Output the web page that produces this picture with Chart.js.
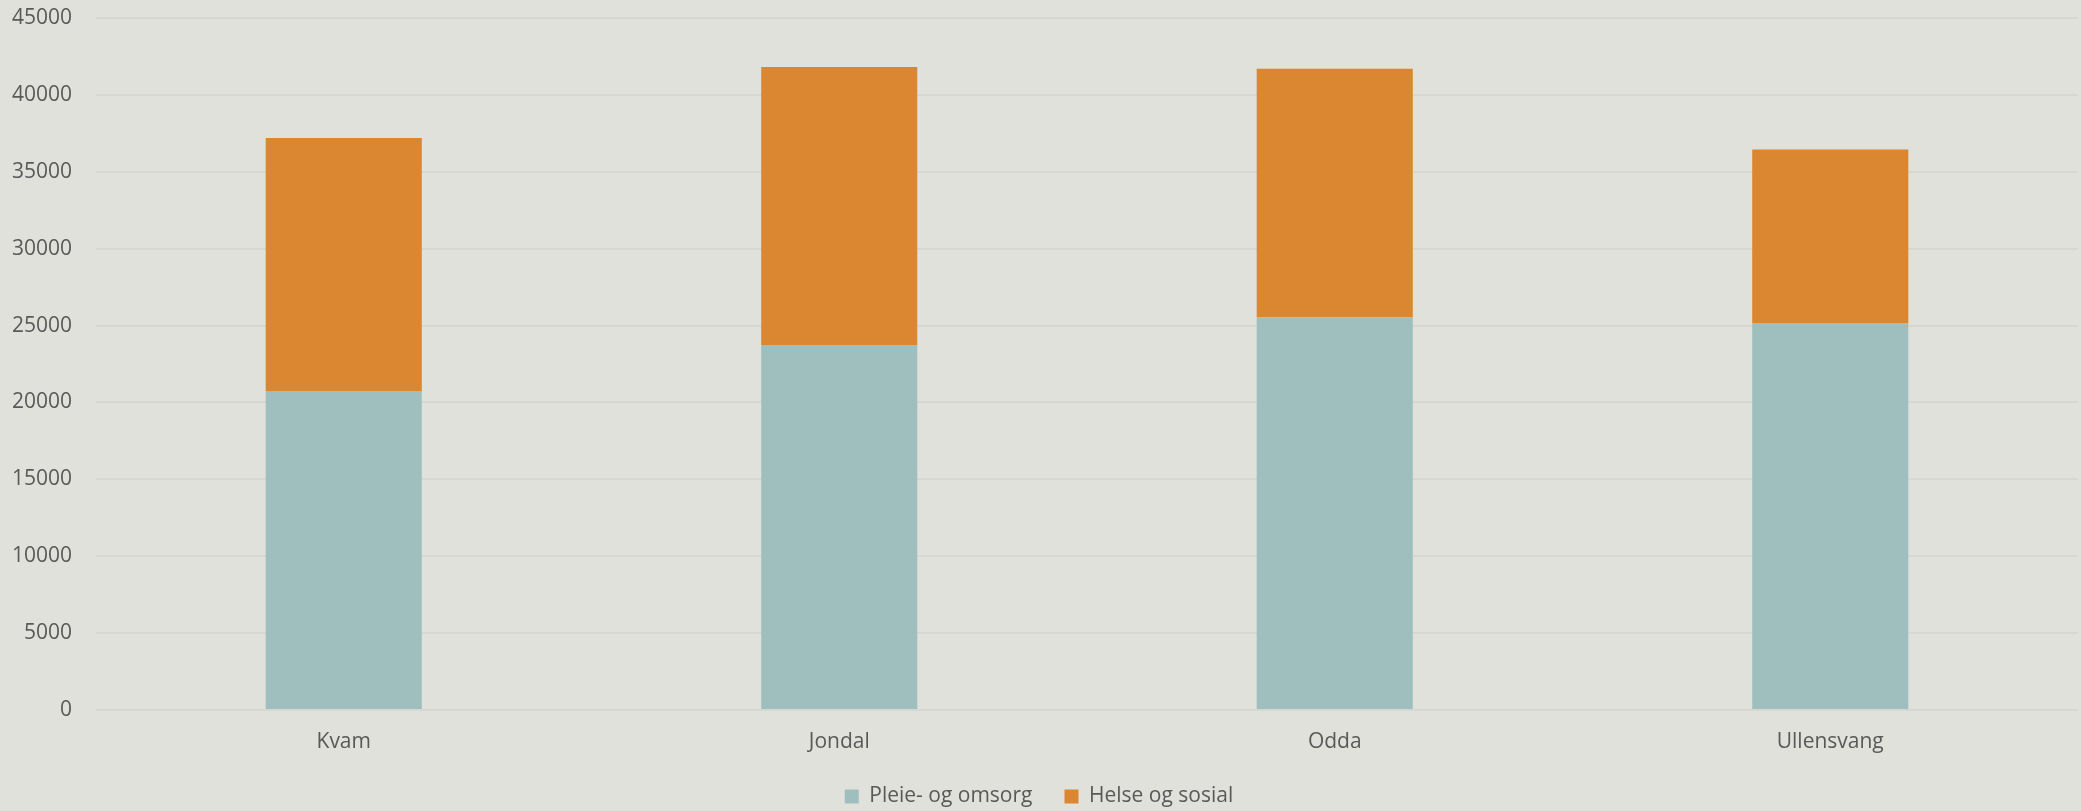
<!DOCTYPE html>
<html>
<head>
<meta charset="utf-8">
<script src="https://cdn.jsdelivr.net/npm/chart.js@4/dist/chart.umd.min.js"></script>
<style>
  html, body { margin: 0; padding: 0; background: #e0e1db; }
  #wrap { width: 2081px; height: 811px; position: relative; }
</style>
</head>
<body>
<div id="wrap"><canvas id="chart"></canvas></div>
<script>
const kommuner = ['Kvam', 'Jondal', 'Odda', 'Ullensvang'];
const pleieOmsorg = [20740, 23730, 25540, 25170];
const helseSosial = [16450, 18080, 16160, 11280];
const yTicks = [0, 5000, 10000, 15000, 20000, 25000, 30000, 35000, 40000, 45000];

const textColor = '#595959';
const font = { family: '"Open Sans", sans-serif', size: 21 };

// keep the legend strip a fixed height so the plot bottom stays put
const legendHeight = {
    id: 'legendHeight',
    beforeLayout(chart) {
        const lg = chart.legend;
        if (lg && !lg._fixed) {
            const fit = lg.fit.bind(lg);
            lg.fit = function () { fit(); this.height = 57; };
            lg._fixed = true;
        }
    }
};

const ctx = document.getElementById('chart').getContext('2d');
new Chart(ctx, {
    type: 'bar',
    data: {
        labels: kommuner,
        datasets: [{
            label: 'Pleie- og omsorg',
            data: pleieOmsorg,
            backgroundColor: '#9ebfbe',
            borderWidth: 0
        }, {
            label: 'Helse og sosial',
            data: helseSosial,
            backgroundColor: '#db8630',
            borderWidth: 0
        }]
    },
    plugins: [legendHeight],
    options: {
        responsive: true,
        maintainAspectRatio: false,
        animation: false,
        layout: { padding: { top: 0, right: 3, left: 0, bottom: 0 } },
        datasets: {
            bar: { categoryPercentage: 1, barPercentage: 0.315 }
        },
        scales: {
            x: {
                stacked: true,
                grid: { display: false, drawTicks: false },
                border: { display: false },
                ticks: { color: textColor, font: font, padding: 19 },
                afterFit: (scale) => { scale.height = 44; }
            },
            y: {
                stacked: true,
                min: 0,
                max: 45000,
                afterBuildTicks: (scale) => { scale.ticks = yTicks.map(v => ({ value: v })); },
                grid: { color: '#d6d7d2', lineWidth: 2, drawTicks: false },
                border: { display: false },
                ticks: {
                    color: textColor,
                    font: font,
                    padding: 24,
                    callback: (value) => String(value)
                },
                afterFit: (scale) => {
                    scale.width = 96;
                    scale.paddingTop = 18;
                    scale.paddingBottom = 0;
                }
            }
        },
        plugins: {
            legend: {
                position: 'bottom',
                labels: {
                    color: textColor,
                    font: font,
                    boxWidth: 14,
                    boxHeight: 14,
                    padding: 32
                }
            },
            tooltip: { enabled: false }
        }
    }
});
</script>
</body>
</html>
